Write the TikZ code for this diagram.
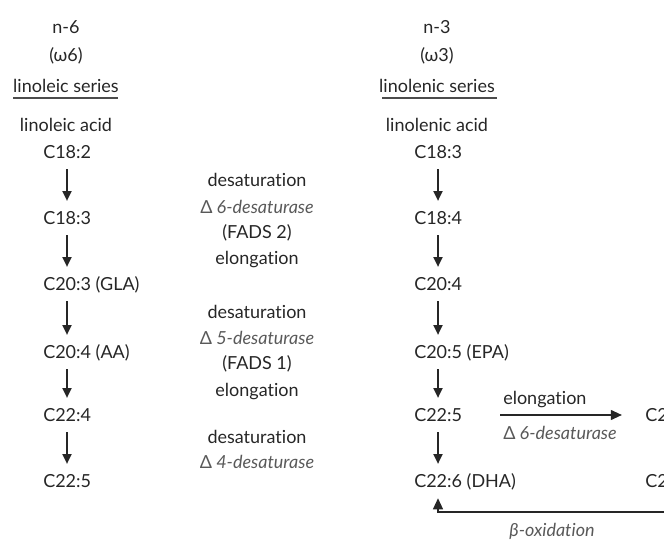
\documentclass[tikz,border=0pt]{standalone}
\usepackage{fontspec}
\setmainfont[Ligatures=NoCommon]{Lato}
\usetikzlibrary{arrows.meta}
\tikzset{
  fatxt/.style={font=\fontsize{12.8}{14}\selectfont, text=black!85, inner sep=0pt, text height=9.2pt, text depth=0pt},
  fachain/.style={fatxt, anchor=west, inner ysep=7.4pt},
  faenz/.style={fatxt, font=\fontsize{12.8}{14}\selectfont\itshape, text=black!65},
  fastep/.style={line width=1.1pt, draw=black!85, -{Triangle[width=6.5pt,length=7pt]}},
  fabold/.style={line width=1.4pt, draw=black!85, -{Triangle[width=7pt,length=8pt]}},
  farule/.style={line width=1.2pt, draw=black!70},
}

\begin{document}
\begin{tikzpicture}
\useasboundingbox (0,0) rectangle (16.6,13.475);
\clip (0,0) rectangle (16.6,13.475);
% n-6 header
\node[fatxt] (n6) at (1.650,12.800) {n-6};
\node[fatxt] (w6) at (1.650,12.100) {(ω6)};
\node[fatxt] (ser6) at (1.650,11.325) {linoleic series};
\draw[farule] (0.325,11.025) -- (2.950,11.025);
\node[fatxt] (acid6) at (1.650,10.350) {linoleic acid};
% n-3 header
\node[fatxt] (n3) at (10.925,12.800) {n-3};
\node[fatxt] (w3) at (10.925,12.100) {(ω3)};
\node[fatxt] (ser3) at (10.925,11.325) {linolenic series};
\draw[farule] (9.550,11.025) -- (12.425,11.025);
\node[fatxt] (acid3) at (10.925,10.350) {linolenic acid};
% linoleic chain
\node[fachain] (l1) at (1.075,9.675) {C18:2};
\node[fachain] (l2) at (1.075,8.025) {C18:3};
\node[fachain] (l3) at (1.075,6.375) {C20:3 (GLA)};
\node[fachain] (l4) at (1.075,4.675) {C20:4 (AA)};
\node[fachain] (l5) at (1.075,3.100) {C22:4};
\node[fachain] (l6) at (1.075,1.450) {C22:5};
% linolenic chain
\node[fachain] (r1) at (10.350,9.675) {C18:3};
\node[fachain] (r2) at (10.350,8.025) {C18:4};
\node[fachain] (r3) at (10.350,6.375) {C20:4};
\node[fachain] (r4) at (10.350,4.675) {C20:5 (EPA)};
\node[fachain] (r5) at (10.350,3.100) {C22:5};
\node[fachain] (r6) at (10.350,1.450) {C22:6 (DHA)};
\node[fachain] (r7) at (16.125,3.100) {C24:5};
\node[fachain] (r8) at (16.125,1.450) {C24:6};
\foreach \a/\b in {l1/l2,l2/l3,l3/l4,l4/l5,l5/l6,r1/r2,r2/r3,r3/r4,r4/r5,r5/r6,r7/r8}
  \draw[fastep] ([xshift=0.6cm]\a.south west) -- ([xshift=0.6cm]\b.north west);
% enzymes
\node[fatxt] (d6a) at (6.425,8.975) {desaturation};
\node[faenz] (d6b) at (6.425,8.300) {{\upshape Δ} 6-desaturase};
\node[fatxt] (d6c) at (6.425,7.675) {(FADS 2)};
\node[fatxt] (d6d) at (6.425,7.025) {elongation};
\node[fatxt] (d5a) at (6.425,5.675) {desaturation};
\node[faenz] (d5b) at (6.425,5.025) {{\upshape Δ} 5-desaturase};
\node[fatxt] (d5c) at (6.425,4.400) {(FADS 1)};
\node[fatxt] (d5d) at (6.425,3.725) {elongation};
\node[fatxt] (d4a) at (6.425,2.550) {desaturation};
\node[faenz] (d4b) at (6.425,1.925) {{\upshape Δ} 4-desaturase};
% Sprecher pathway
\draw[fabold] ([xshift=0.95cm]r5.east) -- ([xshift=-0.575cm]r7.west);
\node[fatxt, anchor=west] (elo) at (12.575,3.525) {elongation};
\node[faenz, anchor=west] (des) at (12.575,2.650) {{\upshape Δ} 6-desaturase};
\coordinate (bend) at (10.950,0.675);
\draw[fabold] ([xshift=0.6cm]r8.south west) |- (bend) -- ([xshift=0.6cm]r6.south west);
\node[faenz] (box) at (13.800,0.230) {β-oxidation};
\end{tikzpicture}
\end{document}
